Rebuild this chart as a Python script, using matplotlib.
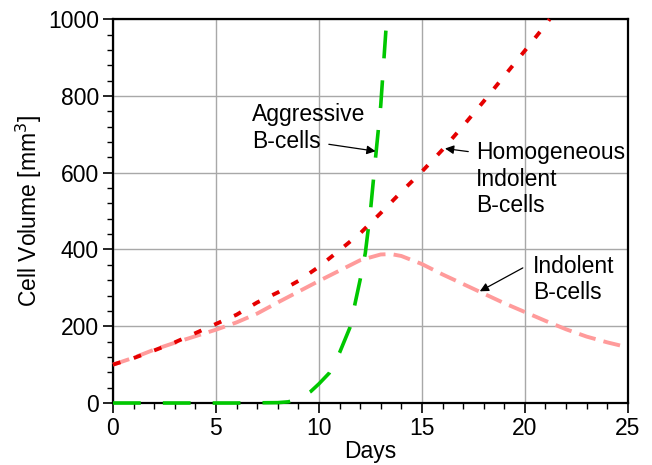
import numpy as np
import matplotlib.pyplot as plt
from matplotlib.ticker import MultipleLocator

plt.rcParams['font.family'] = ['Liberation Sans', 'DejaVu Sans']

# Homogeneous indolent B-cells (red dotted)
t_homog = [0, 1, 2, 3, 4, 5, 6, 7, 8, 9, 10, 11, 12, 13, 14, 15, 16, 17, 18, 19, 20, 21, 21.2]
v_homog = [100, 117, 137, 158, 182, 206, 230, 262, 288, 318, 355, 398, 442, 495, 550, 603, 660, 722, 786, 852, 918, 985, 1000]

# Indolent B-cells (pink dashed)
t_indol = [0, 1, 2, 3, 4, 5, 6, 7, 8, 9, 10, 11, 12, 13, 13.5, 14, 15, 16, 17, 18, 19, 20, 21, 22, 23, 24, 25]
v_indol = [100, 118, 139, 157, 174, 191, 210, 233, 262, 290, 318, 345, 372, 387, 388, 383, 362, 335, 310, 285, 260, 237, 214, 192, 173, 158, 145]

# Aggressive B-cells (green dashed)
t_aggr = [0, 2, 4, 6, 8, 8.5, 9, 9.6, 10, 10.5, 11, 11.5, 12, 12.25, 12.5, 12.75, 13, 13.25, 13.3]
v_aggr = [0, 0, 0, 0, 1, 3, 10, 30, 50, 78, 131, 196, 321, 390, 500, 640, 775, 970, 1000]

fig = plt.figure(figsize=(6.52, 4.65), dpi=100)
ax = fig.add_axes([0.1733, 0.1333, 0.7897, 0.8255])

ax.plot(t_indol, v_indol, color='#ff9b9b', lw=2.8, dashes=(4.4, 2.1), zorder=3, clip_on=False)
ax.plot(t_homog, v_homog, color='#e60000', lw=2.8, dashes=(2.0, 3.6), zorder=3, clip_on=False)
ax.plot(t_aggr, v_aggr, color='#00c800', lw=2.6, dashes=(7.7, 6.1), zorder=3, clip_on=False)

ax.set_xlim(0, 25)
ax.set_ylim(0, 1000)
ax.xaxis.set_major_locator(MultipleLocator(5))
ax.xaxis.set_minor_locator(MultipleLocator(1))
ax.yaxis.set_major_locator(MultipleLocator(200))
ax.yaxis.set_minor_locator(MultipleLocator(40))
ax.grid(True, which='major', color='#a8a8a8', lw=1.0)
ax.set_axisbelow(True)

for s in ax.spines.values():
    s.set_linewidth(1.6)
    s.set_color('black')

ax.tick_params(which='major', direction='out', length=7, width=1.2, labelsize=16.5, pad=3)
ax.tick_params(which='minor', direction='out', length=4, width=1.0)

ax.set_xlabel('Days', fontsize=16.5, labelpad=0)
ax.set_ylabel('Cell Volume [mm$^3$]', fontsize=16.5, labelpad=3)

arrow = dict(arrowstyle='-|>', color='black', lw=0.9, mutation_scale=13, shrinkA=0, shrinkB=0)

ax.text(6.76, 716, 'Aggressive\nB-cells', fontsize=16.5, ha='left', va='center')
ax.annotate('', xy=(12.75, 656), xytext=(10.48, 674), arrowprops=arrow)

ax.text(17.63, 583, 'Homogeneous\nIndolent\nB-cells', fontsize=16.5, ha='left', va='center')
ax.annotate('', xy=(16.12, 663), xytext=(17.25, 655), arrowprops=arrow)

ax.text(20.39, 322, 'Indolent\nB-cells', fontsize=16.5, ha='left', va='center')
ax.annotate('', xy=(17.81, 291), xytext=(19.9, 352), arrowprops=arrow)

fig.savefig('out.png', dpi=100)
